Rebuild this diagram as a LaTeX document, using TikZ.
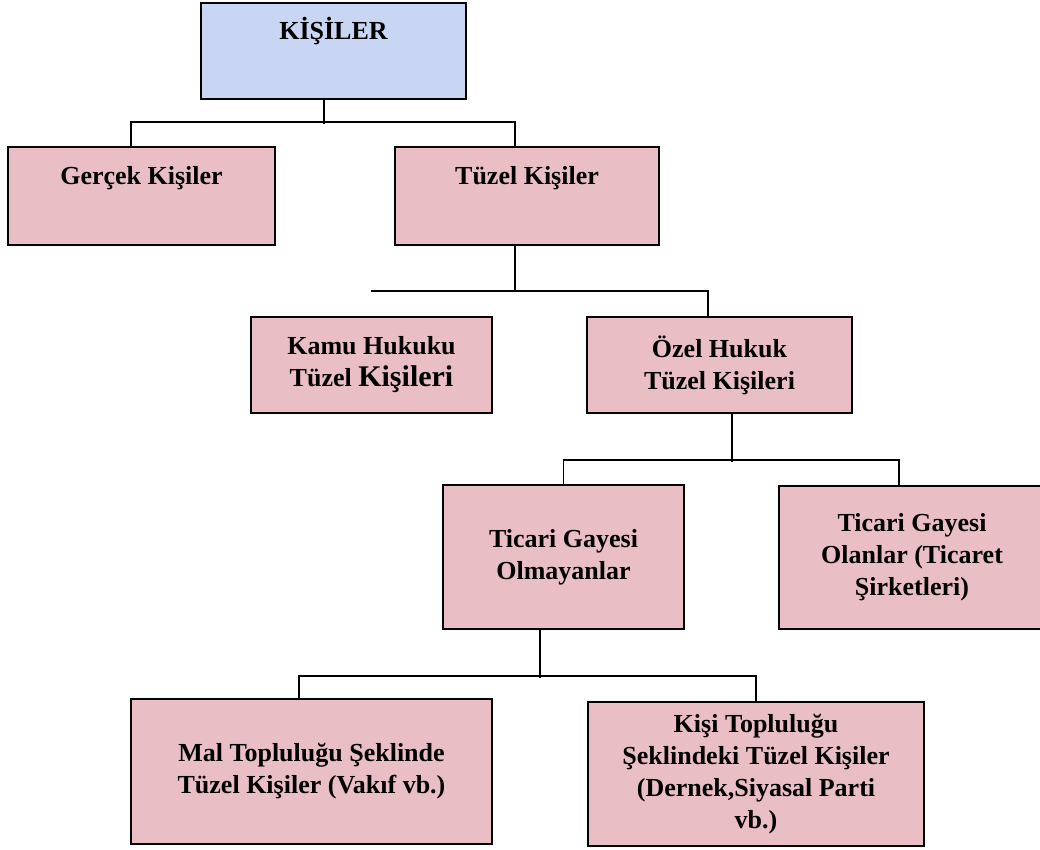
\documentclass[tikz,border=0pt]{standalone}
\usepackage{fontspec}
\setmainfont{Liberation Serif}
\definecolor{BoxPink}{RGB}{234, 190, 197}
\definecolor{BoxBlue}{RGB}{200, 214, 244}

\begin{document}
\begin{tikzpicture}[x=1pt, y=-1pt,
  box/.style={draw, line width=1.6pt, fill=BoxPink, inner sep=0pt, align=center,
    font=\fontsize{26}{32}\selectfont\bfseries},
  topbox/.style={box, text height=20pt, text depth=43pt},
  conn/.style={line width=1.6pt}]
\useasboundingbox (0,0) rectangle (1040,849);
\clip (0,0) rectangle (1040,849);
\node[topbox, fill=BoxBlue, minimum width=265pt, minimum height=96pt] (kisiler) at (333.5,51) {KİŞİLER};
\node[topbox, minimum width=267pt, minimum height=98pt] (gercek) at (141.5,196) {Gerçek Kişiler};
\node[topbox, minimum width=264pt, minimum height=98pt] (tuzel) at (527,196) {Tüzel Kişiler};
\node[box, minimum width=241pt, minimum height=96pt] (kamu) at (371.5,365) {Kamu Hukuku\\Tüzel {\fontsize{30}{32}\selectfont Kişileri}};
\node[box, minimum width=265pt, minimum height=96pt] (ozel) at (719.5,365) {Özel Hukuk\\Tüzel Kişileri};
\node[box, minimum width=241pt, minimum height=144pt] (olmayan) at (563.5,557) {Ticari Gayesi\\Olmayanlar};
\node[box, minimum width=266pt, minimum height=143pt] (olan) at (912,557.5) {Ticari Gayesi\\Olanlar (Ticaret\\Şirketleri)};
\node[box, minimum width=361pt, minimum height=145pt] (mal) at (311.5,771.5) {Mal Topluluğu Şeklinde\\Tüzel Kişiler (Vakıf vb.)};
\node[box, minimum width=336pt, minimum height=144pt] (kisi) at (756,774) {Kişi Topluluğu\\Şeklindeki Tüzel Kişiler\\(Dernek,Siyasal Parti\\vb.)};
\coordinate (kamuend) at (371,291);
\draw[conn] ([xshift=-9.5pt]kisiler.south) -- ++(0,24);
\draw[conn] ([xshift=-10.5pt]gercek.north) -- ++(0,-24) -| ([xshift=-12pt]tuzel.north);
\draw[conn] ([xshift=-12pt]tuzel.south) -- ++(0,46);
\draw[conn] (kamuend) -| ([xshift=-11.5pt]ozel.north);
\draw[conn] ([xshift=12.5pt]ozel.south) -- ++(0,48);
\draw[conn] (olmayan.north) -- ++(0,-24) -| ([xshift=-13pt]olan.north);
\draw[conn] ([xshift=-23.5pt]olmayan.south) -- ++(0,48);
\draw[conn] ([xshift=-12.5pt]mal.north) -- ++(0,-22) -| (kisi.north);
\end{tikzpicture}
\end{document}
